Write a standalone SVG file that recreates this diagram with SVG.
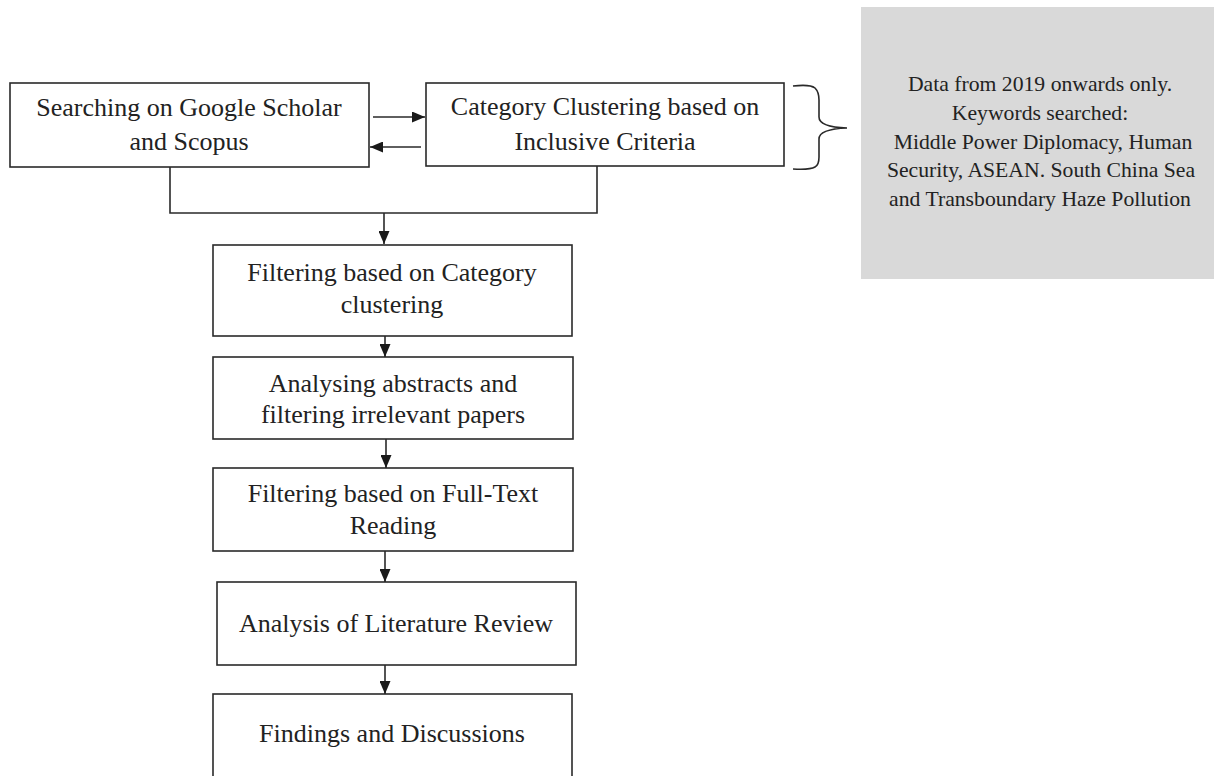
<svg xmlns="http://www.w3.org/2000/svg" width="1214" height="776" viewBox="0 0 1214 776">
<style>
.box{fill:#fff;stroke:#2a2a2a;stroke-width:1.6}
.t{font-family:'Liberation Serif', serif;font-size:26px;fill:#222;text-anchor:middle}
.g{font-family:'Liberation Serif', serif;font-size:21.7px;fill:#222;text-anchor:middle}
.c{fill:none;stroke:#2a2a2a;stroke-width:1.6}
</style>
<defs>
<marker id="ah" viewBox="0 0 13 11" refX="13" refY="5.5" markerWidth="13" markerHeight="11" markerUnits="userSpaceOnUse" orient="auto">
<path d="M0 0 L13 5.5 L0 11 Z" fill="#1a1a1a"/>
</marker>
<clipPath id="clip4"><rect x="213" y="357" width="360" height="71"/></clipPath>
<clipPath id="clip5"><rect x="213" y="468" width="360" height="74"/></clipPath>
</defs>
<rect width="1214" height="776" fill="#fff"/>
<g id="note">
<rect x="861" y="7" width="353" height="272" fill="#d9d9d9"/>
<text class="g" x="1040" y="91">Data from 2019 onwards only.</text>
<text class="g" x="1040" y="120">Keywords searched:</text>
<text class="g" x="1043" y="149">Middle Power Diplomacy, Human</text>
<text class="g" x="1041" y="177">Security, ASEAN. South China Sea</text>
<text class="g" x="1040" y="206">and Transboundary Haze Pollution</text>
</g>
<g id="brace">
<path class="c" d="M793 86 Q810 84 815 88 Q819 92 819 100 L819 117 Q819 127 847 128 Q819 129 819 139 L819 157 Q819 165 815 167 Q810 170 793 169"/>
</g>
<g id="n1">
<rect class="box" x="10" y="83" width="359" height="84"/>
<text class="t" x="189" y="116">Searching on Google Scholar</text>
<text class="t" x="189" y="150">and Scopus</text>
</g>
<g id="n2">
<rect class="box" x="426" y="83" width="358" height="83"/>
<text class="t" x="605" y="115">Category Clustering based on</text>
<text class="t" x="605" y="150">Inclusive Criteria</text>
</g>
<g id="n3">
<rect class="box" x="213" y="245" width="359" height="91"/>
<text class="t" x="392" y="281">Filtering based on Category</text>
<text class="t" x="392" y="313">clustering</text>
</g>
<g id="n4">
<rect class="box" x="213" y="357" width="360" height="82"/>
<g clip-path="url(#clip4)">
<text class="t" x="393" y="392">Analysing abstracts and</text>
<text class="t" x="393" y="423">filtering irrelevant papers</text>
</g>
</g>
<g id="n5">
<rect class="box" x="213" y="468" width="360" height="83"/>
<g clip-path="url(#clip5)">
<text class="t" x="393" y="502">Filtering based on Full-Text</text>
<text class="t" x="393" y="534">Reading</text>
</g>
</g>
<g id="n6">
<rect class="box" x="217" y="582" width="359" height="83"/>
<text class="t" x="396" y="632">Analysis of Literature Review</text>
</g>
<g id="n7">
<rect class="box" x="213" y="694" width="359" height="90"/>
<text class="t" x="392" y="742">Findings and Discussions</text>
</g>
<g id="connectors">
<path class="c" d="M373 117 H425" marker-end="url(#ah)"/>
<path class="c" d="M421 147 H370" marker-end="url(#ah)"/>
<path class="c" d="M170 167 V213 H597 V166"/>
<path class="c" d="M384 213 V244" marker-end="url(#ah)"/>
<path class="c" d="M385 336 V357" marker-end="url(#ah)"/>
<path class="c" d="M386 439 V468" marker-end="url(#ah)"/>
<path class="c" d="M385 551 V582" marker-end="url(#ah)"/>
<path class="c" d="M385 665 V694" marker-end="url(#ah)"/>
</g>
</svg>
